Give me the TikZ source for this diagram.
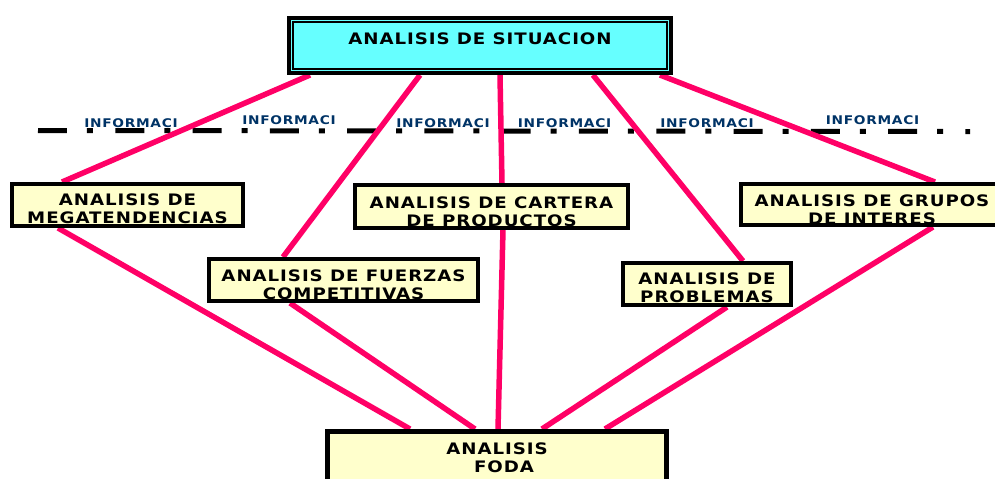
\documentclass[tikz,border=0pt]{standalone}
\usepackage{fontspec}
\setmainfont{DejaVu Sans}
\newfontfamily\boxfont{DejaVu Sans}[LetterSpace=6, FakeStretch=1.15]
\usetikzlibrary{backgrounds}
\definecolor{cyanbox}{HTML}{66FFFF}
\definecolor{yellowbox}{HTML}{FFFFCC}
\definecolor{pinkline}{HTML}{FF0066}
\definecolor{infoblue}{HTML}{003366}

\begin{document}
\begin{tikzpicture}[x=0.02cm, y=-0.02cm,
    box/.style={draw=black, line width=0.08cm, fill=yellowbox, inner sep=0pt},
    boxtext/.style={font=\boxfont\bfseries\fontsize{9}{10.2}\selectfont, align=center, inner sep=0pt},
    info/.style={font=\boxfont\bfseries\fontsize{6.8}{7}\selectfont, text=infoblue, inner sep=0pt},
    link/.style={draw=pinkline, line width=0.11cm},
    dashline/.style={line width=0.1cm, dash pattern=on 0.58cm off 0.4cm on 0.12cm off 0.446cm}]
      % \draw[help lines, gray!50, very thin] (0,0) grid[step=50] (995,478);
      \useasboundingbox (0,0) rectangle (995,478);

      % top box
      \node[box, fill=cyanbox, minimum width=7.64cm, minimum height=1.1cm] (situacion) at (480,45.5) {};
      \draw[line width=0.04cm] ([shift={(0.12cm,-0.12cm)}]situacion.north west) rectangle ([shift={(-0.12cm,0.12cm)}]situacion.south east);
      \node[boxtext] (situacion-txt) at ([yshift=0.14cm]situacion.center) {ANALISIS DE SITUACION};

      % info labels
      \node[info] (info1) at (131,123) {INFORMACI};
      \node[info] (info2) at (289,120) {INFORMACI};
      \node[info] (info3) at (443,123) {INFORMACI};
      \node[info] (info4) at (564.5,123) {INFORMACI};
      \node[info] (info5) at (707,123) {INFORMACI};
      \node[info] (info6) at (872.5,120) {INFORMACI};

      % middle boxes
      \node[box, minimum width=4.62cm, minimum height=0.84cm] (mega) at (127.5,205) {};
      \node[boxtext] (mega-txt) at ([yshift=-0.08cm]mega.center) {ANALISIS DE\\MEGATENDENCIAS};
      \node[box, minimum width=5.38cm, minimum height=0.84cm] (fuerzas) at (343.5,280) {};
      \node[boxtext] (fuerzas-txt) at ([yshift=-0.1cm]fuerzas.center) {ANALISIS DE FUERZAS\\COMPETITIVAS};
      \node[box, minimum width=5.46cm, minimum height=0.86cm] (cartera) at (491.5,206.5) {};
      \node[boxtext] (cartera-txt) at ([yshift=-0.1cm]cartera.center) {ANALISIS DE CARTERA\\DE PRODUCTOS};
      \node[box, minimum width=5.24cm, minimum height=0.82cm] (grupos) at (872,204.5) {};
      \node[boxtext] (grupos-txt) at ([yshift=-0.11cm]grupos.center) {ANALISIS DE GRUPOS\\DE INTERES};
      \node[box, minimum width=3.36cm, minimum height=0.84cm] (problemas) at (707,284) {};
      \node[boxtext] (problemas-txt) at ([yshift=-0.08cm]problemas.center) {ANALISIS DE\\PROBLEMAS};

      % bottom box
      \node[box, line width=0.1cm, minimum width=6.78cm, minimum height=1.32cm] (foda) at (497,464.5) {};
      \node[boxtext] (foda-txt) at ([yshift=0.14cm]foda.center) {ANALISIS\\\hspace*{0.28cm}FODA};

      \begin{scope}[on background layer]
        \coordinate (dl-start) at (38,130.5);
        \coordinate (dl-end) at (970,131.5);
        \draw[dashline] (dl-start) -- (dl-end);

        \draw[link] ([xshift=-3.4cm]situacion.south) -- ([xshift=-1.31cm]mega.north);
        \draw[link] ([xshift=-1.2cm]situacion.south) -- ([xshift=-1.21cm]fuerzas.north);
        \draw[link] ([xshift=0.4cm]situacion.south) -- ([xshift=0.21cm]cartera.north);
        \draw[link] ([xshift=2.26cm]situacion.south) -- ([xshift=0.72cm]problemas.north);
        \draw[link] ([xshift=3.6cm]situacion.south) -- ([xshift=1.26cm]grupos.north);

        \draw[link] ([xshift=-1.39cm]mega.south) -- ([xshift=-1.74cm]foda.north);
        \draw[link] ([xshift=-1.07cm]fuerzas.south) -- ([xshift=-0.44cm]foda.north);
        \draw[link] ([xshift=0.23cm]cartera.south) -- ([xshift=0.02cm]foda.north);
        \draw[link] ([xshift=0.4cm]problemas.south) -- ([xshift=0.9cm]foda.north);
        \draw[link] ([xshift=1.22cm]grupos.south) -- ([xshift=2.16cm]foda.north);
      \end{scope}
    \end{tikzpicture}
\end{document}
